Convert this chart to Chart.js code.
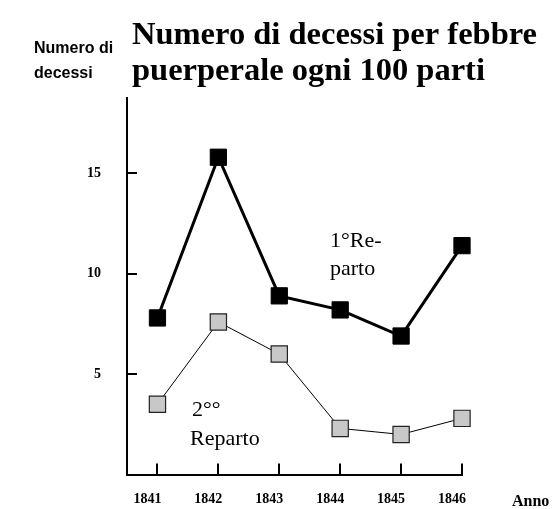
<!DOCTYPE html>
<html>
<head>
<meta charset="utf-8">
<script src="https://cdn.jsdelivr.net/npm/chart.js@4/dist/chart.umd.min.js"></script>
<style>
  html, body { margin: 0; padding: 0; background: #fff; }
  #grafico { display: block; }
</style>
</head>
<body>
<canvas id="grafico" width="560" height="509"></canvas>
<script>
// Dati: decessi per febbre puerperale ogni 100 parti
const anni = [1841, 1842, 1843, 1844, 1845, 1846];
const reparto1 = [7.8, 15.8, 8.9, 8.2, 6.9, 11.4];
const reparto2 = [3.5, 7.6, 6.0, 2.3, 2.0, 2.8];
const tickY = [5, 10, 15];

const serif = "'Liberation Serif', 'Times New Roman', serif";
const sans = "'Liberation Sans', Arial, sans-serif";

// Testi e tacche interne disegnati sopra il grafico
const testiPlugin = {
    id: 'testi',
    afterDraw(chart) {
        const ctx = chart.ctx;
        const x = chart.scales.x;
        const y = chart.scales.y;
        const area = chart.chartArea;

        ctx.save();
        ctx.strokeStyle = '#000';
        ctx.lineWidth = 2;
        // tacche asse y verso l'interno
        tickY.forEach(v => {
            const py = Math.round(y.getPixelForValue(v));
            ctx.beginPath();
            ctx.moveTo(area.left, py);
            ctx.lineTo(area.left + 10, py);
            ctx.stroke();
        });
        // tacche asse x verso l'interno
        anni.forEach(a => {
            const px = Math.round(x.getPixelForValue(a));
            ctx.beginPath();
            ctx.moveTo(px, area.bottom);
            ctx.lineTo(px, area.bottom - 11);
            ctx.stroke();
        });

        ctx.fillStyle = '#000';
        ctx.textBaseline = 'alphabetic';
        ctx.textAlign = 'left';

        // titolo
        ctx.font = 'bold 32.5px ' + serif;
        ctx.fillText('Numero di decessi per febbre', 132, 44);
        ctx.fillText('puerperale ogni 100 parti', 132, 80);

        // titolo asse y
        ctx.font = 'bold 16px ' + sans;
        ctx.fillText('Numero di', 34, 53);
        ctx.fillText('decessi', 34, 78);

        // titolo asse x
        ctx.font = 'bold 16px ' + serif;
        ctx.fillText('Anno', 512, 506);

        // etichette delle serie
        ctx.font = '22px ' + serif;
        ctx.fillText('1°Re-', 330, 247);
        ctx.fillText('parto', 330, 275);
        ctx.fillText('2°°', 192, 416);
        ctx.fillText('Reparto', 190, 445);
        ctx.restore();
    }
};

new Chart(document.getElementById('grafico'), {
    type: 'line',
    data: {
        datasets: [
            {
                label: '1° Reparto',
                data: anni.map((a, i) => ({ x: a, y: reparto1[i] })),
                borderColor: '#000',
                borderWidth: 3,
                pointStyle: 'rect',
                pointRadius: 11.5,
                pointBackgroundColor: '#000',
                pointBorderColor: '#000',
                pointBorderWidth: 1,
                tension: 0
            },
            {
                label: '2° Reparto',
                data: anni.map((a, i) => ({ x: a, y: reparto2[i] })),
                borderColor: '#000',
                borderWidth: 1,
                pointStyle: 'rect',
                pointRadius: 11.5,
                pointBackgroundColor: '#c8c8c8',
                pointBorderColor: '#222',
                pointBorderWidth: 1.2,
                tension: 0
            }
        ]
    },
    options: {
        responsive: false,
        animation: false,
        clip: false,
        layout: { padding: { top: 98, right: 98, left: 0, bottom: 0 } },
        plugins: {
            legend: { display: false },
            tooltip: { enabled: false }
        },
        scales: {
            x: {
                type: 'linear',
                min: 1840.5,
                max: 1846,
                afterBuildTicks: scale => { scale.ticks = anni.map(v => ({ value: v })); },
                afterFit: scale => { scale.height = 32; },
                grid: { display: false, drawTicks: false },
                border: { display: true, color: '#000', width: 2 },
                ticks: {
                    color: '#000',
                    padding: 16,
                    labelOffset: -10,
                    maxRotation: 0,
                    autoSkip: false,
                    font: { family: serif, size: 14, weight: 'bold' },
                    callback: v => String(v)
                }
            },
            y: {
                min: 0,
                max: 18.75,
                afterBuildTicks: scale => { scale.ticks = tickY.map(v => ({ value: v })); },
                afterFit: scale => { scale.width = 127; },
                grid: { display: false, drawTicks: false },
                border: { display: true, color: '#000', width: 2 },
                ticks: {
                    color: '#000',
                    padding: 26,
                    font: { family: serif, size: 14, weight: 'bold' }
                }
            }
        }
    },
    plugins: [testiPlugin]
});
</script>
</body>
</html>
